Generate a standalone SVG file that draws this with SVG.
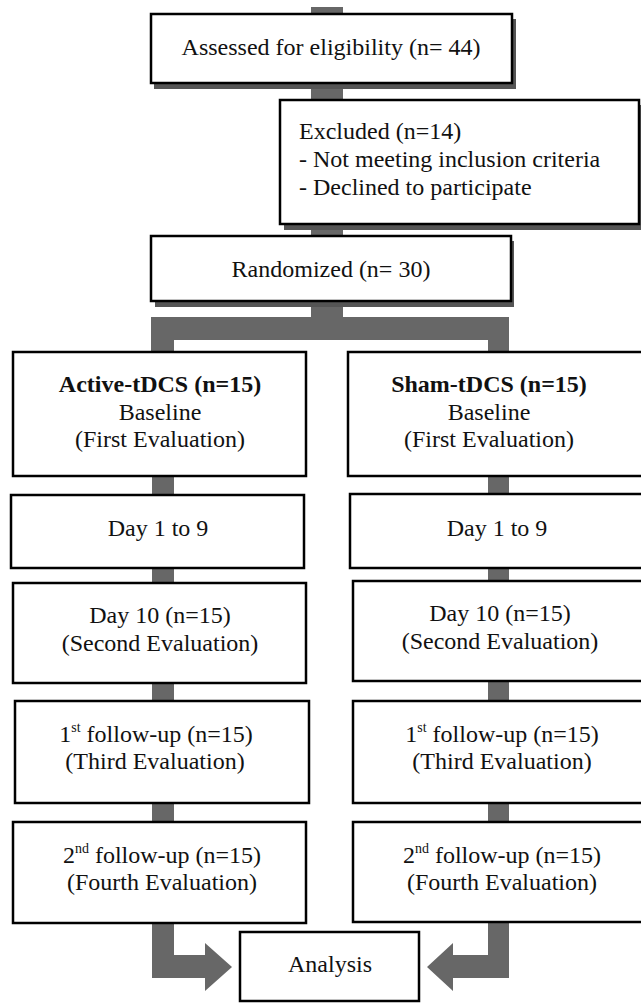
<svg xmlns="http://www.w3.org/2000/svg" width="641" height="1003" viewBox="0 0 641 1003">
<style>
.box{fill:#fff;stroke:#000;stroke-width:2.5}
.shadow{fill:#555}
.bar{fill:#676767}
text{font-family:"Liberation Serif","Times New Roman",serif;font-size:24px;fill:#111}
.c{text-anchor:middle}
.b{font-weight:bold}
.sup{font-size:14px}
</style>
<rect width="641" height="1003" fill="#fff"/>
<g id="connectors" class="bar">
<rect x="311" y="7" width="32" height="95"/>
<rect x="311" y="222" width="32" height="16"/>
<rect x="311" y="300" width="32" height="18"/>
<rect x="151" y="317" width="358" height="23"/>
<rect x="151" y="338" width="23" height="15"/>
<rect x="488" y="338" width="21" height="15"/>
<rect x="152" y="475" width="22" height="22"/>
<rect x="488" y="475" width="21" height="21"/>
<rect x="152" y="567" width="22" height="18"/>
<rect x="488" y="567" width="21" height="16"/>
<rect x="152" y="682" width="22" height="21"/>
<rect x="488" y="680" width="21" height="23"/>
<rect x="152" y="802" width="22" height="22"/>
<rect x="488" y="802" width="21" height="22"/>
<polygon points="152,921 174,921 174,955 205,955 205,943 232,967 205,991 205,978 152,978"/>
<polygon points="488,921 509,921 509,978 453,978 453,991 427,967 453,943 453,955 488,955"/>
</g>
<g id="assessed">
<rect class="shadow" x="154" y="19" width="362" height="70"/>
<rect class="box" x="151" y="14" width="361" height="69"/>
<text class="c" x="331" y="55">Assessed for eligibility (n= 44)</text>
</g>
<g id="excluded">
<rect class="shadow" x="284" y="105" width="362" height="125"/>
<rect class="box" x="280" y="100" width="359" height="124"/>
<text x="299" y="139">Excluded (n=14)</text>
<text x="299" y="167">- Not meeting inclusion criteria</text>
<text x="299" y="195">- Declined to participate</text>
</g>
<g id="randomized">
<rect class="shadow" x="155" y="241" width="359" height="66"/>
<rect class="box" x="151" y="236" width="360" height="65"/>
<text class="c" x="331" y="277">Randomized (n= 30)</text>
</g>
<g id="active-baseline">
<rect class="box" x="13" y="352" width="293" height="124"/>
<text class="c b" x="160" y="392">Active-tDCS (n=15)</text>
<text class="c" x="160" y="420">Baseline</text>
<text class="c" x="160" y="447">(First Evaluation)</text>
</g>
<g id="sham-baseline">
<rect class="box" x="348" y="352" width="300" height="124"/>
<text class="c b" x="489" y="392">Sham-tDCS (n=15)</text>
<text class="c" x="489" y="420">Baseline</text>
<text class="c" x="489" y="447">(First Evaluation)</text>
</g>
<g id="active-day1-9">
<rect class="box" x="11" y="495" width="293" height="73"/>
<text class="c" x="158" y="536">Day 1 to 9</text>
</g>
<g id="sham-day1-9">
<rect class="box" x="350" y="494" width="300" height="74"/>
<text class="c" x="497" y="536">Day 1 to 9</text>
</g>
<g id="active-day10">
<rect class="box" x="13" y="583" width="293" height="100"/>
<text class="c" x="160" y="623">Day 10 (n=15)</text>
<text class="c" x="160" y="651">(Second Evaluation)</text>
</g>
<g id="sham-day10">
<rect class="box" x="353" y="581" width="300" height="100"/>
<text class="c" x="500" y="621">Day 10 (n=15)</text>
<text class="c" x="500" y="649">(Second Evaluation)</text>
</g>
<g id="active-fu1">
<rect class="box" x="15" y="701" width="294" height="102"/>
<text class="c" x="156" y="742">1<tspan class="sup" dy="-10">st</tspan><tspan dy="10"> follow-up (n=15)</tspan></text>
<text class="c" x="155" y="769">(Third Evaluation)</text>
</g>
<g id="sham-fu1">
<rect class="box" x="353" y="701" width="300" height="102"/>
<text class="c" x="502" y="742">1<tspan class="sup" dy="-10">st</tspan><tspan dy="10"> follow-up (n=15)</tspan></text>
<text class="c" x="502" y="769">(Third Evaluation)</text>
</g>
<g id="active-fu2">
<rect class="box" x="13" y="822" width="293" height="101"/>
<text class="c" x="162" y="863">2<tspan class="sup" dy="-10">nd</tspan><tspan dy="10"> follow-up (n=15)</tspan></text>
<text class="c" x="162" y="890">(Fourth Evaluation)</text>
</g>
<g id="sham-fu2">
<rect class="box" x="353" y="822" width="300" height="100"/>
<text class="c" x="502" y="863">2<tspan class="sup" dy="-10">nd</tspan><tspan dy="10"> follow-up (n=15)</tspan></text>
<text class="c" x="502" y="890">(Fourth Evaluation)</text>
</g>
<g id="analysis">
<rect class="box" x="240" y="932" width="179" height="69"/>
<text class="c" x="330" y="972">Analysis</text>
</g>
</svg>
